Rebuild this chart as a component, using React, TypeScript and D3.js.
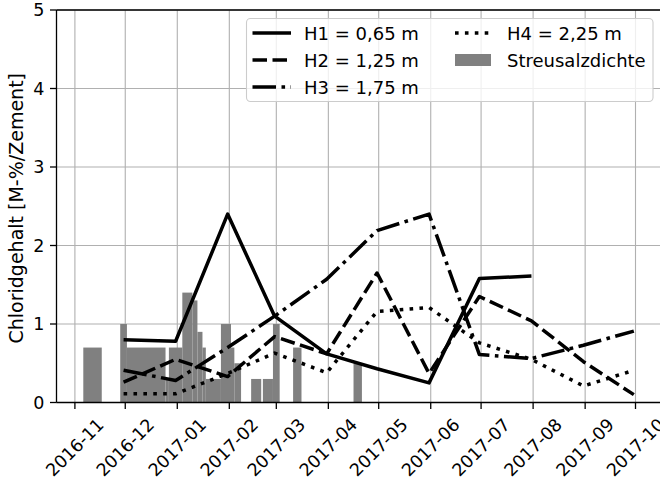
import React from "react";
import * as d3 from "d3";

// ---- data ----
const sampleDates = [
  "2016-11-30", "2016-12-31", "2017-01-31", "2017-02-28", "2017-03-31",
  "2017-04-30", "2017-05-31", "2017-06-30", "2017-07-31", "2017-08-31", "2017-09-30",
];
const h1Values: (number | null)[] = [0.80, 0.78, 2.40, 1.10, 0.62, 0.43, 0.25, 1.58, 1.61, null, null];
const h2Values: (number | null)[] = [0.26, 0.55, 0.33, 0.84, 0.62, 1.65, 0.37, 1.35, 1.04, 0.52, 0.10];
const h3Values: (number | null)[] = [0.41, 0.28, 0.70, 1.10, 1.57, 2.19, 2.40, 0.61, 0.56, 0.73, 0.91];
const h4Values: (number | null)[] = [0.11, 0.11, 0.37, 0.63, 0.38, 1.16, 1.21, 0.76, 0.55, 0.21, 0.41];

const seriesLabels = ["H1 = 0,65 m", "H2 = 1,25 m", "H3 = 1,75 m", "H4 = 2,25 m"];
const barLabel = "Streusalzdichte";

const barStart = [
  "2016-11-06", "2016-11-28", "2016-12-02", "2016-12-25", "2016-12-27", "2017-01-04",
  "2017-01-10", "2017-01-13", "2017-01-16", "2017-01-18", "2017-01-27", "2017-02-02",
  "2017-02-04", "2017-02-14", "2017-02-21", "2017-02-27", "2017-03-11", "2017-04-16",
];
const barEnd = [
  "2016-11-17", "2016-12-02", "2016-12-25", "2016-12-27", "2017-01-04", "2017-01-10",
  "2017-01-13", "2017-01-16", "2017-01-18", "2017-01-27", "2017-02-02", "2017-02-04",
  "2017-02-08", "2017-02-20", "2017-02-27", "2017-03-03", "2017-03-16", "2017-04-21",
];
const barValues = [
  0.7, 1.0, 0.7, 0.3, 0.7, 1.4,
  1.3, 0.9, 0.7, 0.3, 1.0, 0.7,
  0.5, 0.3, 0.3, 1.0, 0.7, 0.5,
];

const yTicks = [0, 1, 2, 3, 4, 5];
const xTickMonths = [
  "2016-11", "2016-12", "2017-01", "2017-02", "2017-03", "2017-04",
  "2017-05", "2017-06", "2017-07", "2017-08", "2017-09", "2017-10",
];
const yAxisLabel = "Chloridgehalt [M-%/Zement]";

// ---- layout ----
const W = 660, H = 483;
const plotLeft = 56.5, plotRight = 661, plotTop = 10, plotBottom = 402.5;
const FONT = "DejaVu Sans, sans-serif";
const LW = 3.5;
const styles = ["", "14.5,5.5", "23.5,5.5,3.6,5.5", "3.6,6.3"];

export default function App() {
  const parse = (s: string) => new Date(s + (s.length === 7 ? "-01" : ""));
  const x = d3.scaleUtc()
    .domain([parse("2016-11-01"), parse("2017-10-01")])
    .range([74.9, 635.5]);
  const y = d3.scaleLinear().domain([0, 5]).range([plotBottom, plotTop]);

  const series = [h1Values, h2Values, h3Values, h4Values];
  const line = d3.line<[Date, number | null]>()
    .defined((d) => d[1] != null)
    .x((d) => x(d[0]))
    .y((d) => y(d[1] as number));

  const xTickDates = xTickMonths.map(parse);

  const legendRows = [
    { col: 0, row: 0, kind: "line", s: 0, label: seriesLabels[0] },
    { col: 0, row: 1, kind: "line", s: 1, label: seriesLabels[1] },
    { col: 0, row: 2, kind: "line", s: 2, label: seriesLabels[2] },
    { col: 1, row: 0, kind: "line", s: 3, label: seriesLabels[3] },
    { col: 1, row: 1, kind: "bar", s: -1, label: barLabel },
  ];
  const colX = [252.5, 455];
  const textX = [304, 507];
  const rowY = [33, 60, 87];

  return (
    <svg width={W} height={H} style={{ position: "absolute", left: 0, top: 0, background: "#fff" }}
      fontFamily={FONT}>
      <defs>
        <clipPath id="plotclip">
          <rect x={plotLeft} y={plotTop} width={plotRight - plotLeft} height={plotBottom - plotTop} />
        </clipPath>
      </defs>
      <rect x={0} y={0} width={W} height={H} fill="#fff" />
      {/* grid */}
      <g stroke="#b0b0b0" strokeWidth={1.1}>
        {xTickDates.map((d, i) => (
          <line key={"gx" + i} x1={x(d)} x2={x(d)} y1={plotTop} y2={plotBottom} />
        ))}
        {yTicks.map((t) => (
          <line key={"gy" + t} x1={plotLeft} x2={plotRight} y1={y(t)} y2={y(t)} />
        ))}
      </g>
      <g clipPath="url(#plotclip)">
        {/* bars */}
        {barValues.map((v, i) => {
          const x0 = x(parse(barStart[i]));
          const x1 = x(parse(barEnd[i]));
          return (
            <rect key={"b" + i} x={x0} y={y(v)} width={x1 - x0} height={y(0) - y(v)} fill="#808080" />
          );
        })}
        {/* lines */}
        {series.map((vals, si) => (
          <path key={"s" + si}
            d={line(sampleDates.map((d, i) => [parse(d), vals[i]]) as [Date, number | null][]) || ""}
            fill="none" stroke="#000" strokeWidth={LW}
            strokeDasharray={styles[si] || undefined}
            strokeLinejoin="round" strokeLinecap="butt" />
        ))}
      </g>
      {/* spines */}
      <g stroke="#000" strokeWidth={1.3} fill="none">
        <line x1={plotLeft} x2={plotLeft} y1={plotTop} y2={plotBottom} />
        <line x1={plotLeft} x2={plotRight} y1={plotBottom} y2={plotBottom} />
        <line x1={plotLeft} x2={plotRight} y1={plotTop} y2={plotTop} />
      </g>
      {/* y ticks */}
      {yTicks.map((t) => (
        <g key={"yt" + t}>
          <line x1={plotLeft - 6.5} x2={plotLeft} y1={y(t)} y2={y(t)} stroke="#000" strokeWidth={1.3} />
          <text x={44.5} y={y(t)} textAnchor="end" dominantBaseline="central" fontSize={17.5} fill="#000">
            {t}
          </text>
        </g>
      ))}
      {/* x ticks */}
      {xTickDates.map((d, i) => (
        <g key={"xt" + i}>
          <line x1={x(d)} x2={x(d)} y1={plotBottom} y2={plotBottom + 6.5} stroke="#000" strokeWidth={1.3} />
          <text transform={`translate(${x(d)},447.5) rotate(-45)`} textAnchor="middle"
            dominantBaseline="central" fontSize={17.5} fill="#000">
            {d3.utcFormat("%Y-%m")(d)}
          </text>
        </g>
      ))}
      {/* y label */}
      <text transform={`translate(16,${(plotTop + plotBottom) / 2 + 2}) rotate(-90)`} textAnchor="middle"
        dominantBaseline="central" fontSize={19} fill="#000">
        {yAxisLabel}
      </text>
      {/* legend */}
      <rect x={246.5} y={18.5} width={406.5} height={83} rx={4} ry={4}
        fill="#fff" fillOpacity={0.8} stroke="#cccccc" strokeWidth={1.1} />
      {legendRows.map((r, i) => (
        <g key={"lg" + i}>
          {r.kind === "line" ? (
            <line x1={colX[r.col]} x2={colX[r.col] + 38.5} y1={rowY[r.row]} y2={rowY[r.row]}
              stroke="#000" strokeWidth={LW} strokeDasharray={styles[r.s] || undefined} />
          ) : (
            <rect x={colX[r.col]} y={rowY[r.row] - 6} width={36} height={12} fill="#808080" />
          )}
          <text x={textX[r.col]} y={rowY[r.row]} dominantBaseline="central" fontSize={18} fill="#000">
            {r.label}
          </text>
        </g>
      ))}
    </svg>
  );
}
